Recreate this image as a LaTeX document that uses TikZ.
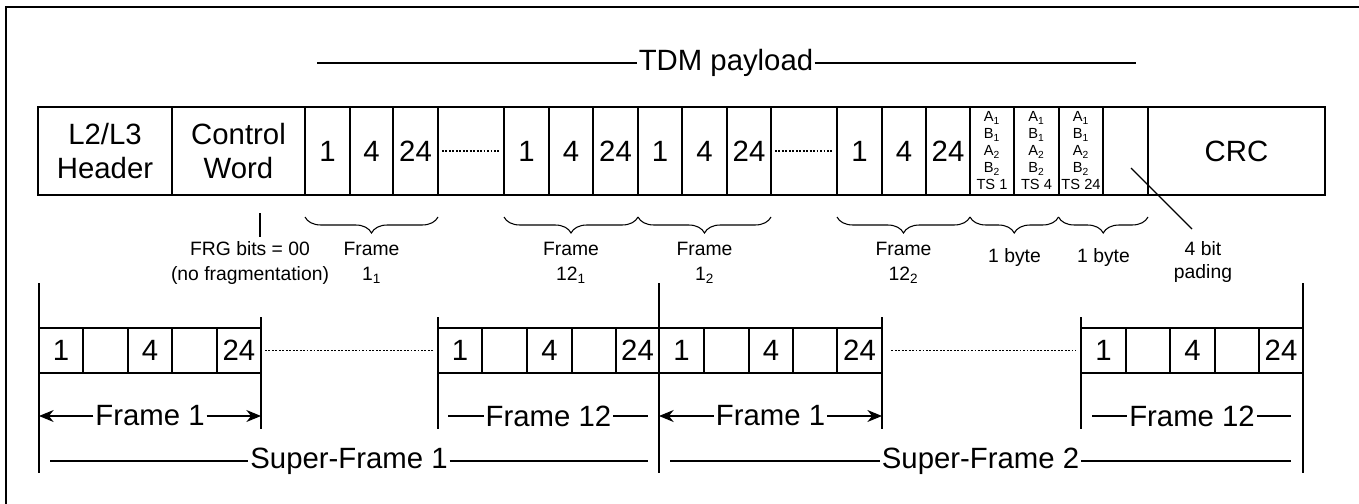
\documentclass[tikz,border=0pt]{standalone}
\usepackage{fontspec}
\setmainfont{Liberation Sans}
\usetikzlibrary{decorations.pathreplacing,arrows.meta,calc}

\newcommand\topcell[4]{%
  \pgfmathsetmacro\mycx{(#2+#3)/2}%
  \pgfmathsetmacro\mycw{(#3-#2)*0.75}%
  \node[tcell, minimum width=\mycw pt] (#1) at (\mycx,151) {#4};}
\newcommand\botcell[4]{%
  \pgfmathsetmacro\mycx{(#2+#3)/2}%
  \pgfmathsetmacro\mycw{(#3-#2)*0.75}%
  \node[bcell, minimum width=\mycw pt] (#1) at (\mycx,350.5) {#4};}
\newcommand\tsfield[1]{A\textsubscript{1}\\B\textsubscript{1}\\A\textsubscript{2}\\B\textsubscript{2}\\#1}

\begin{document}
\begin{tikzpicture}[x=0.75pt,y=-0.75pt,
  every node/.style={inner sep=0pt, outer sep=0pt},
  bigtxt/.style={font=\fontsize{22}{25}\selectfont},
  midtxt/.style={font=\fontsize{14.5}{18.75}\selectfont, align=center},
  tstxt/.style={font=\fontsize{11}{12.75}\selectfont},
  tcell/.style={draw, line width=0.9pt, minimum height=66pt, align=center, bigtxt},
  tscell/.style={tcell, tstxt},
  bcell/.style={draw, line width=1.3pt, minimum height=33.75pt, bigtxt},
  thickline/.style={line width=2pt},
  thinline/.style={line width=0.8pt},
  dotline/.style={line width=0.8pt, dash pattern=on 1.4pt off 1.2pt},
  brc/.style={line width=0.8pt, decorate, decoration={brace,mirror,amplitude=12pt}},
  arr/.style={line width=0.9pt, -{Stealth[length=11pt,width=9pt]}},
  lbl/.style={bigtxt, outer sep=1.5pt},
]
\useasboundingbox (0,0) rectangle (1359,503);
\fill[white] (0,0) rectangle (1359,503);
% outer frame (top and left visible)
\draw[line width=1.5pt] (1370,7) -- (6,7) -- (6,515);

% ---------- TDM payload ----------
\node[bigtxt, outer sep=1pt] (tdm) at (726,63) {TDM payload};
\coordinate (tdmL) at (317,63);
\coordinate (tdmR) at (1136,63);
\draw[thinline] (tdmL) -- (tdm.west);
\draw[thinline] (tdm.east) -- (tdmR);

% ---------- top row ----------
\topcell{hdr}{38}{172}{L2/L3\\Header}
\topcell{cw}{172}{305}{Control\\Word}
\topcell{a1}{305}{350}{1}
\topcell{a4}{350}{393}{4}
\topcell{a24}{393}{438}{24}
\topcell{adots}{438}{504}{}
\topcell{b1}{504}{549}{1}
\topcell{b4}{549}{593}{4}
\topcell{b24}{593}{638}{24}
\topcell{c1}{638}{682}{1}
\topcell{c4}{682}{727}{4}
\topcell{c24}{727}{771}{24}
\topcell{cdots}{771}{837}{}
\topcell{d1}{837}{882}{1}
\topcell{d4}{882}{926}{4}
\topcell{d24}{926}{970}{24}
\pgfmathsetmacro\mycw{44*0.75}
\node[tscell, minimum width=\mycw pt] (ts1) at (992,151) {\tsfield{TS 1}};
\node[tscell, minimum width=\mycw pt] (ts4) at (1036.5,151) {\tsfield{TS 4}};
\node[tscell, minimum width=\mycw pt] (ts24) at (1081,151) {\tsfield{TS 24}};
\topcell{pad}{1103}{1148}{}
\topcell{crc}{1148}{1325}{CRC}

\draw[thickline] (hdr.north west) rectangle (crc.south east);
\draw[thickline] (cw.north west) -- (cw.south west);
\draw[thickline] (a1.north west) -- (a1.south west);
\draw[thickline] (crc.north west) -- (crc.south west);

\draw[dotline] ([xshift=3pt]adots.west) -- ([xshift=-3pt]adots.east);
\draw[dotline] ([xshift=3pt]cdots.west) -- ([xshift=-3pt]cdots.east);

% ---------- braces ----------
\draw[brc] ([yshift=-16.5pt]a1.south west) -- ([yshift=-16.5pt]a24.south east);
\draw[brc] ([yshift=-16.5pt]b1.south west) -- ([yshift=-16.5pt]b24.south east);
\draw[brc] ([yshift=-16.5pt]c1.south west) -- ([yshift=-16.5pt]c24.south east);
\draw[brc] ([yshift=-16.5pt]d1.south west) -- ([yshift=-16.5pt]d24.south east);
\draw[brc] ([yshift=-16.5pt]ts1.south west) -- ([yshift=-16.5pt]ts4.south east);
\draw[brc] ([yshift=-16.5pt]ts4.south east) -- ([yshift=-16.5pt]pad.south east);

\node[midtxt] (lf11) at (371.5,263) {Frame\\1\textsubscript{1}};
\node[midtxt] (lf121) at (571,263) {Frame\\12\textsubscript{1}};
\node[midtxt] (lf12) at (704.5,263) {Frame\\1\textsubscript{2}};
\node[midtxt] (lf122) at (903.5,263) {Frame\\12\textsubscript{2}};
\node[midtxt] (byte1) at (1014.5,257) {1 byte};
\node[midtxt] (byte2) at (1103.5,257) {1 byte};
\node[midtxt, font=\fontsize{14.5}{17.25}\selectfont] (padlbl) at (1203,262) {4 bit\\pading};
\node[midtxt] (frg) at (250,263) {FRG bits = 00\\(no fragmentation)};

\coordinate (frgT) at (260,213);
\coordinate (frgB) at (260,237);
\draw[line width=1pt] (frgT) -- (frgB);
\coordinate (padP) at (1131,168);
\coordinate (padQ) at (1192,229);
\draw[line width=1pt] (padP) -- (padQ);

% ---------- bottom row ----------
\botcell{e1}{39}{83}{1}
\botcell{e2}{83}{128}{}
\botcell{e3}{128}{172}{4}
\botcell{e4}{172}{217}{}
\botcell{e5}{217}{261}{24}
\botcell{f1}{438}{482}{1}
\botcell{f2}{482}{527}{}
\botcell{f3}{527}{572}{4}
\botcell{f4}{572}{616}{}
\botcell{f5}{616}{659}{24}
\botcell{g1}{659}{704}{1}
\botcell{g2}{704}{749}{}
\botcell{g3}{749}{793}{4}
\botcell{g4}{793}{837}{}
\botcell{g5}{837}{882}{24}
\botcell{h1}{1081}{1126}{1}
\botcell{h2}{1126}{1170}{}
\botcell{h3}{1170}{1215}{4}
\botcell{h4}{1215}{1259}{}
\botcell{h5}{1259}{1303}{24}
\foreach \s/\e in {e1/e5,f1/f5,g1/g5,h1/h5}{
  \draw[thickline] (\s.north west) -- (\e.north east);
  \draw[thickline] (\s.south west) -- (\e.south east);
}
\draw[dotline] ([xshift=3pt]e5.east) -- ([xshift=-3pt]f1.west);
\draw[dotline] ([xshift=7pt]g5.east) -- ([xshift=-4pt]h1.west);

% long and short vertical lines
\foreach \n/\x in {A/39,D/659,G/1303}{
  \coordinate (\n t) at (\x,283);
  \coordinate (\n b) at (\x,473);
  \draw[thickline] (\n t) -- (\n b);
}
\foreach \n/\x in {B/261,C/438,E/882,F/1081}{
  \coordinate (\n t) at (\x,317);
  \coordinate (\n b) at (\x,429);
  \draw[thickline] (\n t) -- (\n b);
}

% frame labels
\node[lbl] (fr11) at (150,416) {Frame 1};
\draw[arr] (fr11.west) -- (fr11.west -| At);
\draw[arr] (fr11.east) -- (fr11.east -| Bt);
\node[lbl] (fr121) at (548.5,416) {Frame 12};
\coordinate (fr121L) at (448,416);
\coordinate (fr121R) at (648,416);
\draw[thinline] (fr121L) -- (fr121.west);
\draw[thinline] (fr121.east) -- (fr121R);
\node[lbl] (fr21) at (770.5,416) {Frame 1};
\draw[arr] (fr21.west) -- (fr21.west -| Dt);
\draw[arr] (fr21.east) -- (fr21.east -| Et);
\node[lbl] (fr212) at (1192,416) {Frame 12};
\coordinate (fr212L) at (1092,416);
\coordinate (fr212R) at (1291,416);
\draw[thinline] (fr212L) -- (fr212.west);
\draw[thinline] (fr212.east) -- (fr212R);

% super-frame labels
\node[lbl] (sf1) at (349,461) {Super-Frame 1};
\coordinate (sf1L) at (50,461);
\coordinate (sf1R) at (648,461);
\draw[thinline] (sf1L) -- (sf1.west);
\draw[thinline] (sf1.east) -- (sf1R);
\node[lbl] (sf2) at (980.5,461) {Super-Frame 2};
\coordinate (sf2L) at (670,461);
\coordinate (sf2R) at (1291,461);
\draw[thinline] (sf2L) -- (sf2.west);
\draw[thinline] (sf2.east) -- (sf2R);
\end{tikzpicture}
\end{document}
